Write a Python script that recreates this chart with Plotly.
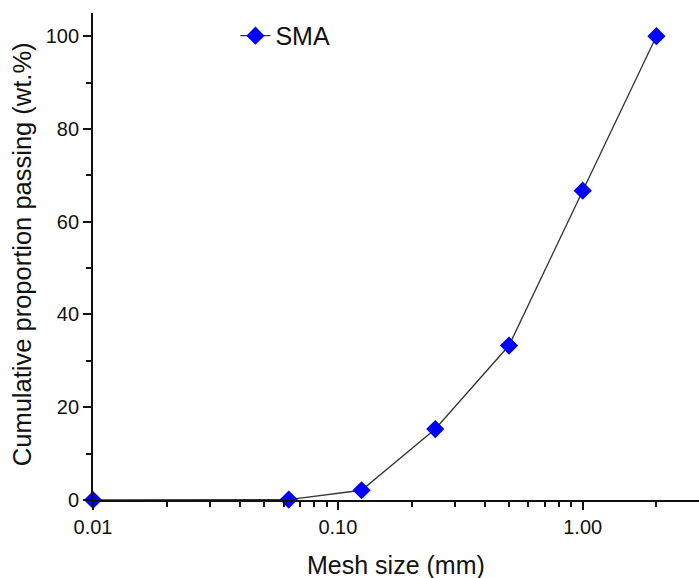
import plotly.graph_objects as go

mesh_size = [0.01, 0.063, 0.125, 0.25, 0.5, 1.0, 2.0]
passing = [0.0, 0.1, 2.1, 15.3, 33.3, 66.7, 100.0]
x_tickvals = [0.01, 0.1, 1.0]
x_ticktext = ["0.01", "0.10", "1.00"]
x_minor_vals = [0.02, 0.03, 0.04, 0.05, 0.06, 0.07, 0.08, 0.09,
                0.2, 0.3, 0.4, 0.5, 0.6, 0.7, 0.8, 0.9, 2.0]
y_tickvals = [0, 20, 40, 60, 80, 100]

FONT = "Liberation Sans, Arial, sans-serif"
INK = "#111111"

fig = go.Figure()
fig.add_trace(go.Scatter(
    x=mesh_size, y=passing, mode="lines+markers", name="SMA",
    line=dict(color="#333333", width=1.3),
    marker=dict(symbol="diamond", size=14, color="#0000FF", line=dict(width=0)),
    cliponaxis=False,
))

fig.update_layout(
    width=699, height=578,
    margin=dict(l=93, r=0, t=13, b=78),
    paper_bgcolor="white", plot_bgcolor="white",
    font=dict(family=FONT, color=INK, size=20),
    showlegend=True,
    legend=dict(x=0.235, y=0.953, xanchor="left", yanchor="middle",
                font=dict(size=25), bgcolor="rgba(0,0,0,0)"),
    annotations=[
        dict(text="Mesh size (mm)", xref="paper", yref="paper",
             x=0.5, y=-0.133, xanchor="center", yanchor="middle",
             showarrow=False, font=dict(size=25, family=FONT, color=INK)),
        dict(text="Cumulative proportion passing (wt.%)", xref="paper", yref="paper",
             x=-0.117, y=0.505, xanchor="center", yanchor="middle", textangle=-90,
             showarrow=False, font=dict(size=25.5, family=FONT, color=INK)),
    ],
)
fig.update_xaxes(
    type="log", range=[-2, 0.475], automargin=False,
    tickvals=x_tickvals, ticktext=x_ticktext,
    ticks="outside", ticklen=8, tickwidth=1.5, tickcolor=INK,
    showline=True, linecolor=INK, linewidth=1.8,
    showgrid=False, zeroline=False,
    minor=dict(tickvals=x_minor_vals, ticks="outside", ticklen=5, tickwidth=1.5,
               tickcolor=INK, showgrid=False),
)
fig.update_yaxes(
    range=[0, 105], automargin=False,
    tickvals=y_tickvals,
    ticks="outside", ticklen=8, tickwidth=1.5, tickcolor=INK,
    showline=True, linecolor=INK, linewidth=1.8,
    showgrid=False, zeroline=False,
    minor=dict(dtick=10, ticks="outside", ticklen=5, tickwidth=1.5, tickcolor=INK, showgrid=False),
)

fig.write_html(
    "out.html",
    config={"displayModeBar": False},
    post_script="document.body.style.margin='0';document.body.style.overflow='hidden';",
)
